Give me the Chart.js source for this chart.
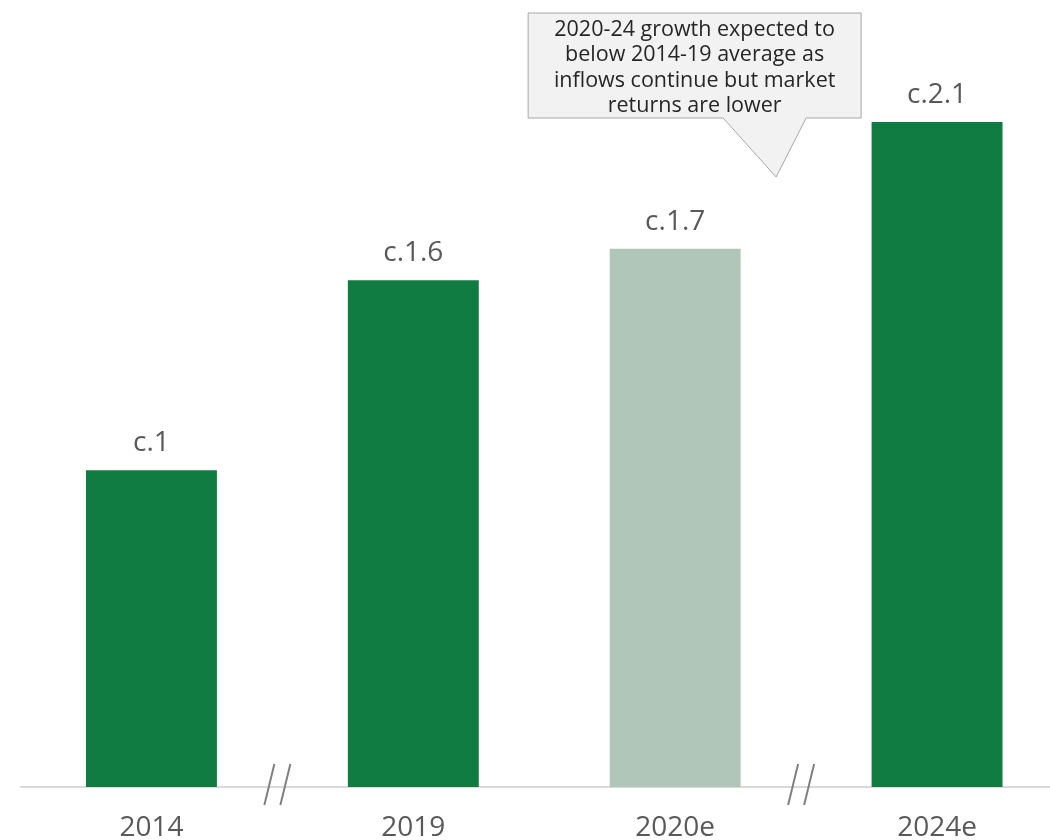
<!DOCTYPE html>
<html>
<head>
<meta charset="utf-8">
<script src="https://cdn.jsdelivr.net/npm/chart.js@4.4.1/dist/chart.umd.min.js"></script>
<style>
  html,body{margin:0;padding:0;background:#fff;overflow:hidden;}
  #wrap{width:1050px;height:840px;overflow:hidden;}
  canvas{display:block;}
</style>
</head>
<body>
<div id="wrap"><canvas id="chart" width="1068" height="840"></canvas></div>
<script>
const years = ['2014','2019','2020e','2024e'];
const values = [1.0, 1.6, 1.7, 2.1];
const valueLabels = ['c.1','c.1.6','c.1.7','c.2.1'];
const barColors = ['#107C41','#107C41','#AFC6B9','#107C41'];
const breaksAfter = [0, 2];   // axis break drawn between these categories and the next
const calloutLines = ['2020-24 growth expected to','below 2014-19 average as','inflows continue but market','returns are lower'];

const FONT = "'Open Sans', 'Noto Sans', sans-serif";

// labels over each bar
const barLabels = {
  id:'barLabels',
  afterDatasetsDraw(chart){
    const {ctx} = chart;
    const meta = chart.getDatasetMeta(0);
    ctx.save();
    ctx.font = `28px ${FONT}`;
    ctx.fillStyle = '#595959';
    ctx.textAlign = 'center';
    ctx.textBaseline = 'alphabetic';
    meta.data.forEach((bar,i)=>{ ctx.fillText(valueLabels[i], bar.x, bar.y - 19); });
    ctx.restore();
  }
};

// "//" breaks on the x axis
const axisBreaks = {
  id:'axisBreaks',
  afterDraw(chart){
    const {ctx, scales:{x}, chartArea} = chart;
    const yb = chartArea.bottom;
    ctx.save();
    ctx.strokeStyle = '#808080';
    ctx.lineWidth = 2;
    breaksAfter.forEach(i=>{
      const mid = (x.getPixelForValue(i) + x.getPixelForValue(i+1))/2 - 5;
      [-8, 8].forEach(off=>{
        ctx.beginPath();
        ctx.moveTo(mid + off + 5, yb - 23);
        ctx.lineTo(mid + off - 5, yb + 18);
        ctx.stroke();
      });
    });
    ctx.restore();
  }
};

// speech-bubble note above 2020e / 2024e
const callout = {
  id:'callout',
  afterDraw(chart){
    const {ctx, scales:{x}} = chart;
    const mid = (x.getPixelForValue(2) + x.getPixelForValue(3))/2;
    const left = mid - 278, right = mid + 55, top = 13, bottom = 118;
    const tipX = mid - 30, tipY = 177;
    ctx.save();
    ctx.beginPath();
    ctx.moveTo(left, top);
    ctx.lineTo(right, top);
    ctx.lineTo(right, bottom);
    ctx.lineTo(mid, bottom);
    ctx.lineTo(tipX, tipY);
    ctx.lineTo(mid - 83, bottom);
    ctx.lineTo(left, bottom);
    ctx.closePath();
    ctx.fillStyle = '#F2F2F2';
    ctx.fill();
    ctx.strokeStyle = '#A6A6A6';
    ctx.lineWidth = 1;
    ctx.stroke();
    ctx.font = `21.5px ${FONT}`;
    ctx.fillStyle = '#262626';
    ctx.textAlign = 'center';
    ctx.textBaseline = 'alphabetic';
    const cx = (left + right)/2;
    calloutLines.forEach((t,i)=> ctx.fillText(t, cx, 35.5 + i*25.5));
    ctx.restore();
  }
};

new Chart(document.getElementById('chart'), {
  type:'bar',
  data:{
    labels: years,
    datasets:[{ data: values, backgroundColor: barColors, borderWidth:0, categoryPercentage:1, barPercentage:0.5 }]
  },
  options:{
    responsive:false,
    animation:false,
    layout:{ padding:{ left:20.5, right:0, top:27, bottom:0 } },
    plugins:{ legend:{display:false}, tooltip:{enabled:false} },
    scales:{
      x:{
        grid:{ display:false, drawTicks:false },
        border:{ display:true, color:'#D9D9D9', width:2 },
        ticks:{ color:'#595959', font:{ family:FONT, size:28 }, padding:24 },
        afterFit(s){ s.height = 53; }
      },
      y:{ display:false, min:0, max:2.4 }
    }
  },
  plugins:[barLabels, axisBreaks, callout]
});
</script>
</body>
</html>
